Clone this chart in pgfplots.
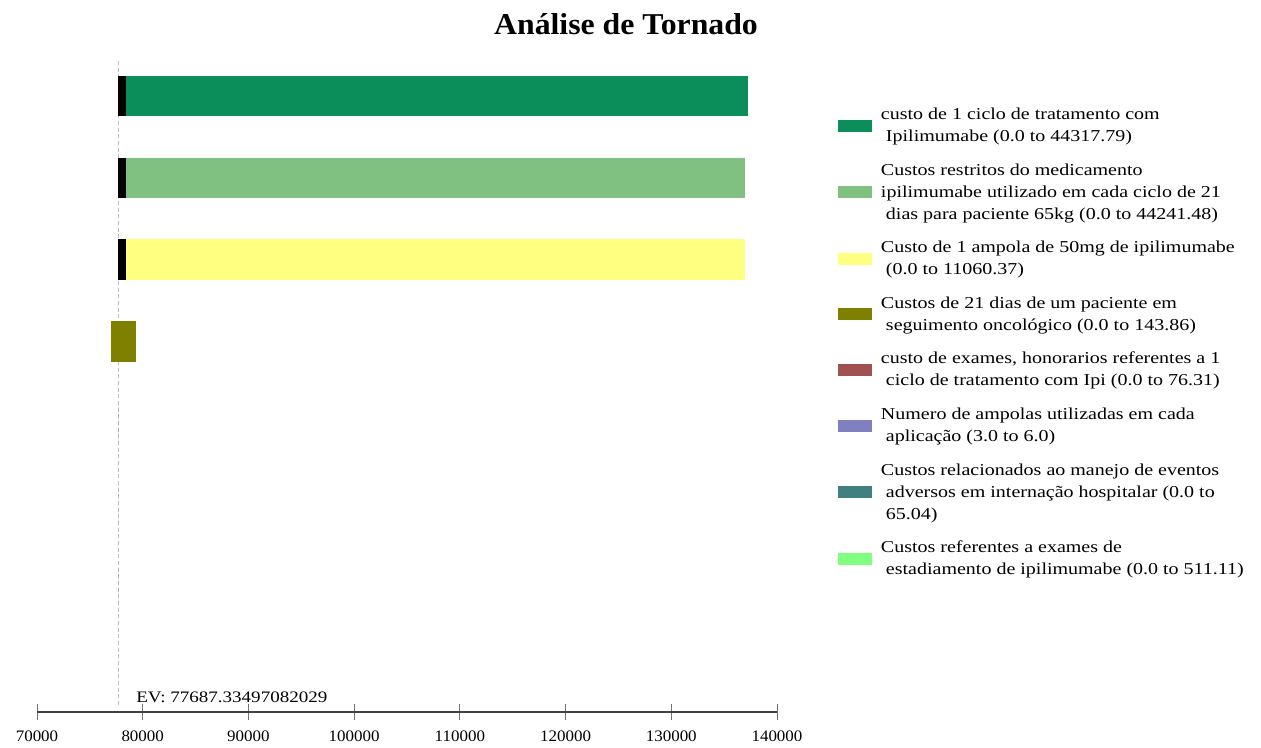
\documentclass[border=0pt]{standalone}
\usepackage{fontspec}
\setmainfont{Liberation Serif}
\newfontfamily\legfont[FakeStretch=1.2]{Liberation Serif}
\newfontfamily\evfont[FakeStretch=1.19]{Liberation Serif}
\newfontfamily\tickfont[FakeStretch=1.06]{Liberation Serif}
\newfontfamily\titlefont[FakeStretch=1.05]{Liberation Serif}
\usepackage{pgfplots}
\pgfplotsset{compat=1.18}
\definecolor{c1}{HTML}{0B8E5A}
\definecolor{c2}{HTML}{80C080}
\definecolor{c3}{HTML}{FFFF80}
\definecolor{c4}{HTML}{808000}
\definecolor{c5}{HTML}{A05252}
\definecolor{c6}{HTML}{8080C0}
\definecolor{c7}{HTML}{408080}
\definecolor{c8}{HTML}{80FF80}
\begin{document}
\begin{tikzpicture}
\useasboundingbox (-27.75pt,-26.25pt) rectangle (918pt,534pt);
\begin{axis}[
  at={(0pt,0pt)}, anchor=south west,
  width=555pt, height=489pt, scale only axis,
  xmin=70000, xmax=140000, ymin=0.475, ymax=8.44,
  axis y line=none, axis x line*=bottom,
  x axis line style={-, draw=black!75, line width=1.2pt},
  xtick={70000,80000,...,140000},
  tick align=center, major tick length=12pt,
  xtick style={draw=black!55, line width=0.6pt},
  scaled x ticks=false,
  /pgf/number format/fixed,
  /pgf/number format/precision=0,
  /pgf/number format/1000 sep={},
  /pgf/number format/assume math mode=true,
  xticklabel style={font=\tickfont\fontsize{12}{14}\selectfont, yshift=-4.5pt},
  legend image code/.code={\fill[#1] (0pt,-4.5pt) rectangle (25.5pt,4.5pt);},
  legend cell align=left,
  legend style={draw=none, fill=none, inner sep=0pt, outer sep=0pt,
    at={(1.0824,0.9265)}, anchor=north west,
    nodes={inner sep=0pt}, cells={align=left},
    font=\legfont\fontsize{12.5}{16.5}\selectfont,
    column sep=6.75pt, row sep=15pt},
]
% EV line
\addplot[forget plot, densely dashed, draw=black!25, line width=0.6pt] coordinates {(77687.33,0.56) (77687.33,8.44)};
% row 1 (y=8)
\addplot[fill=c1, draw=none] coordinates {(78443,7.7526) (137250,7.7526) (137250,8.2474) (78443,8.2474)} -- cycle;
\addlegendentry{custo de 1 ciclo de tratamento com\\\ Ipilimumabe (0.0 to 44317.79)}
% row 2 (y=7)
\addplot[fill=c2, draw=none] coordinates {(78443,6.7526) (136970,6.7526) (136970,7.2474) (78443,7.2474)} -- cycle;
\addlegendentry{Custos restritos do medicamento\\ ipilimumabe utilizado em cada ciclo de 21\\\ dias para paciente 65kg (0.0 to 44241.48)}
% row 3 (y=6)
\addplot[fill=c3, draw=none] coordinates {(78443,5.7526) (136970,5.7526) (136970,6.2474) (78443,6.2474)} -- cycle;
\addlegendentry{Custo de 1 ampola de 50mg de ipilimumabe\\\ (0.0 to 11060.37)}
% row 4 (y=5)
\addplot[fill=c4, draw=none] coordinates {(76962,4.7526) (79321,4.7526) (79321,5.2474) (76962,5.2474)} -- cycle;
\addlegendentry{Custos de 21 dias de um paciente em\\\ seguimento oncológico (0.0 to 143.86)}
% rows 5-8: no visible swing
\addplot[fill=c5, draw=none] coordinates {(77687.33,3.7526) (77687.33,3.7526) (77687.33,4.2474) (77687.33,4.2474)} -- cycle;
\addlegendentry{custo de exames, honorarios referentes a 1\\\ ciclo de tratamento com Ipi (0.0 to 76.31)}
\addplot[fill=c6, draw=none] coordinates {(77687.33,2.7526) (77687.33,2.7526) (77687.33,3.2474) (77687.33,3.2474)} -- cycle;
\addlegendentry{Numero de ampolas utilizadas em cada\\\ aplicação (3.0 to 6.0)}
\addplot[fill=c7, draw=none] coordinates {(77687.33,1.7526) (77687.33,1.7526) (77687.33,2.2474) (77687.33,2.2474)} -- cycle;
\addlegendentry{Custos relacionados ao manejo de eventos\\\ adversos em internação hospitalar (0.0 to\\\ 65.04)}
\addplot[fill=c8, draw=none] coordinates {(77687.33,0.7526) (77687.33,0.7526) (77687.33,1.2474) (77687.33,1.2474)} -- cycle;
\addlegendentry{Custos referentes a exames de\\\ estadiamento de ipilimumabe (0.0 to 511.11)}
% black low-side segments
\addplot[forget plot, fill=black, draw=none] coordinates {(77687.33,7.7526) (78443,7.7526) (78443,8.2474) (77687.33,8.2474)} -- cycle;
\addplot[forget plot, fill=black, draw=none] coordinates {(77687.33,6.7526) (78443,6.7526) (78443,7.2474) (77687.33,7.2474)} -- cycle;
\addplot[forget plot, fill=black, draw=none] coordinates {(77687.33,5.7526) (78443,5.7526) (78443,6.2474) (77687.33,6.2474)} -- cycle;
\node[anchor=west, inner sep=0pt, font=\evfont\fontsize{12}{15}\selectfont] at (axis cs:79370,0.658) {EV: 77687.33497082029};
\end{axis}
\node[anchor=base, font=\titlefont\bfseries\fontsize{22.7}{27}\selectfont] at (441.75pt,507.75pt) {Análise de Tornado};
\end{tikzpicture}
\end{document}
